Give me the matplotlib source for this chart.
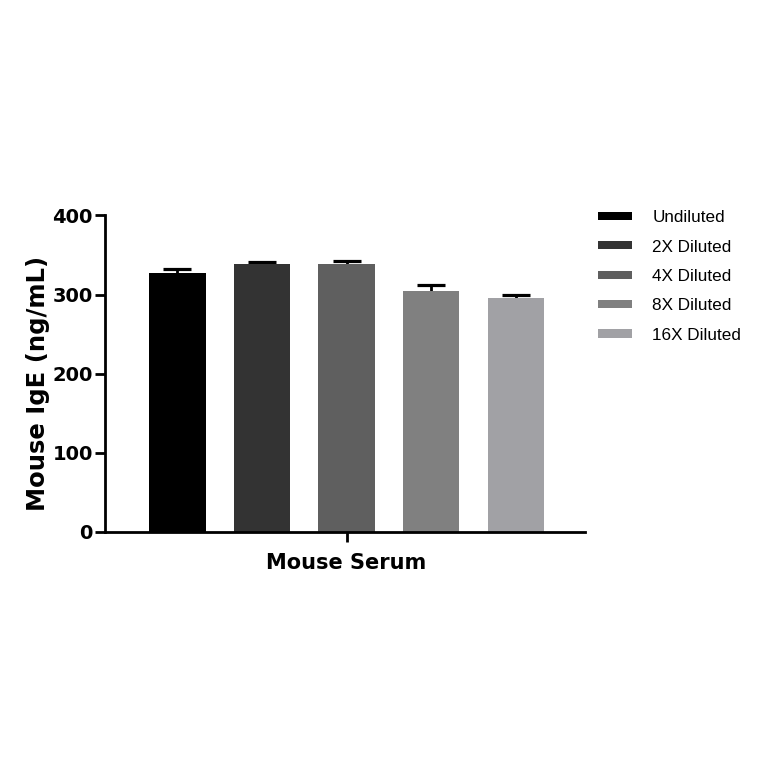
import numpy as np
import matplotlib.pyplot as plt
from matplotlib.patches import Patch

labels = ["Undiluted", "2X Diluted", "4X Diluted", "8X Diluted", "16X Diluted"]
values = [327, 339, 338, 305, 296]
errors = [5, 2.5, 4.5, 6.5, 3]
colors = ["#000000", "#333333", "#5f5f5f", "#808080", "#a1a1a5"]
group = "Mouse Serum"

fig = plt.figure(figsize=(7.64, 7.64), dpi=100)
ax = fig.add_axes([0.138, 0.304, 0.628, 0.414])

x = np.arange(len(values))
ax.bar(x, values, width=0.667, color=colors, zorder=3)
# symmetric bars behind the columns, so only the upper half shows
ax.errorbar(x, values, yerr=errors, fmt="none", ecolor="black",
            elinewidth=2, capsize=10, capthick=2.3, zorder=2)

ax.set_xlim(-0.85, 4.82)
ax.set_ylim(0, 400)
ax.set_yticks([0, 100, 200, 300, 400])
ax.set_xticks([2])
ax.set_xticklabels([group])

for s in ["top", "right"]:
    ax.spines[s].set_visible(False)
for s in ["left", "bottom"]:
    ax.spines[s].set_linewidth(2)
    ax.spines[s].set_zorder(4)

ax.tick_params(axis="y", width=2, length=7, labelsize=14, pad=2)
ax.tick_params(axis="x", width=2, length=7, labelsize=15, pad=8)
for t in ax.get_yticklabels() + ax.get_xticklabels():
    t.set_fontweight("bold")

ax.set_ylabel("Mouse IgE (ng/mL)", fontsize=17.5, fontweight="bold",
              labelpad=2, y=0.47)

handles = [Patch(facecolor=c, edgecolor="none") for c in colors]
fig.legend(handles, labels, loc="upper left", bbox_to_anchor=(0.763, 0.745),
           frameon=False, handlelength=2.0, handleheight=0.35,
           handletextpad=1.17, labelspacing=0.84,
           prop={"family": "Liberation Sans", "size": 12.3})

fig.savefig("out.png", dpi=100)
